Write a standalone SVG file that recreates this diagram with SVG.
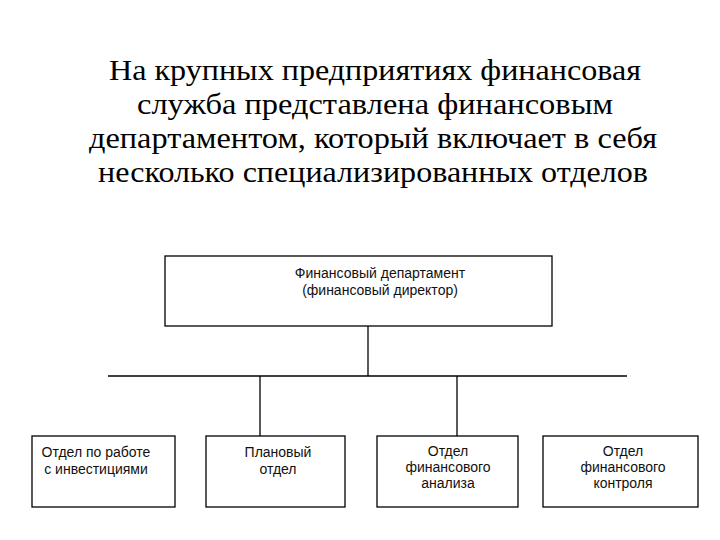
<svg xmlns="http://www.w3.org/2000/svg" width="720" height="540" viewBox="0 0 720 540">
<style>
.title{font-family:"Liberation Serif","Times New Roman",serif;font-size:29px;fill:#000;text-anchor:middle}
.lbl{font-family:"Liberation Sans",Arial,sans-serif;font-size:14px;fill:#111;text-anchor:middle}
.box{fill:#fff;stroke:#000;stroke-width:1.3}
.ln{stroke:#000;stroke-width:1.3;fill:none}
</style>
<rect width="720" height="540" fill="#fff"/>
<g id="title">
<text class="title" x="375" y="80" textLength="532" lengthAdjust="spacingAndGlyphs">На крупных предприятиях финансовая</text>
<text class="title" x="375" y="114" textLength="476" lengthAdjust="spacingAndGlyphs">служба представлена финансовым</text>
<text class="title" x="373" y="148" textLength="568" lengthAdjust="spacingAndGlyphs">департаментом, который включает в себя</text>
<text class="title" x="373" y="182" textLength="550" lengthAdjust="spacingAndGlyphs">несколько специализированных отделов</text>
</g>
<g id="connectors">
<line class="ln" x1="368" y1="326" x2="368" y2="376"/>
<line class="ln" x1="108" y1="376" x2="627" y2="376"/>
<line class="ln" x1="260" y1="376" x2="260" y2="436"/>
<line class="ln" x1="457" y1="376" x2="457" y2="436"/>
</g>
<g id="dept">
<rect class="box" x="165" y="256" width="387" height="70"/>
<text class="lbl" x="380" y="278">Финансовый департамент</text>
<text class="lbl" x="380" y="295">(финансовый директор)</text>
</g>
<g id="invest">
<rect class="box" x="32" y="436" width="143" height="71"/>
<text class="lbl" x="96" y="457">Отдел по работе</text>
<text class="lbl" x="96" y="474">с инвестициями</text>
</g>
<g id="plan">
<rect class="box" x="206" y="436" width="139" height="71"/>
<text class="lbl" x="278" y="457">Плановый</text>
<text class="lbl" x="278" y="474">отдел</text>
</g>
<g id="analysis">
<rect class="box" x="377" y="436" width="141" height="71"/>
<text class="lbl" x="448" y="456">Отдел</text>
<text class="lbl" x="448" y="472">финансового</text>
<text class="lbl" x="448" y="488">анализа</text>
</g>
<g id="control">
<rect class="box" x="543" y="436" width="155" height="71"/>
<text class="lbl" x="623" y="456">Отдел</text>
<text class="lbl" x="623" y="472">финансового</text>
<text class="lbl" x="623" y="488">контроля</text>
</g>
</svg>
